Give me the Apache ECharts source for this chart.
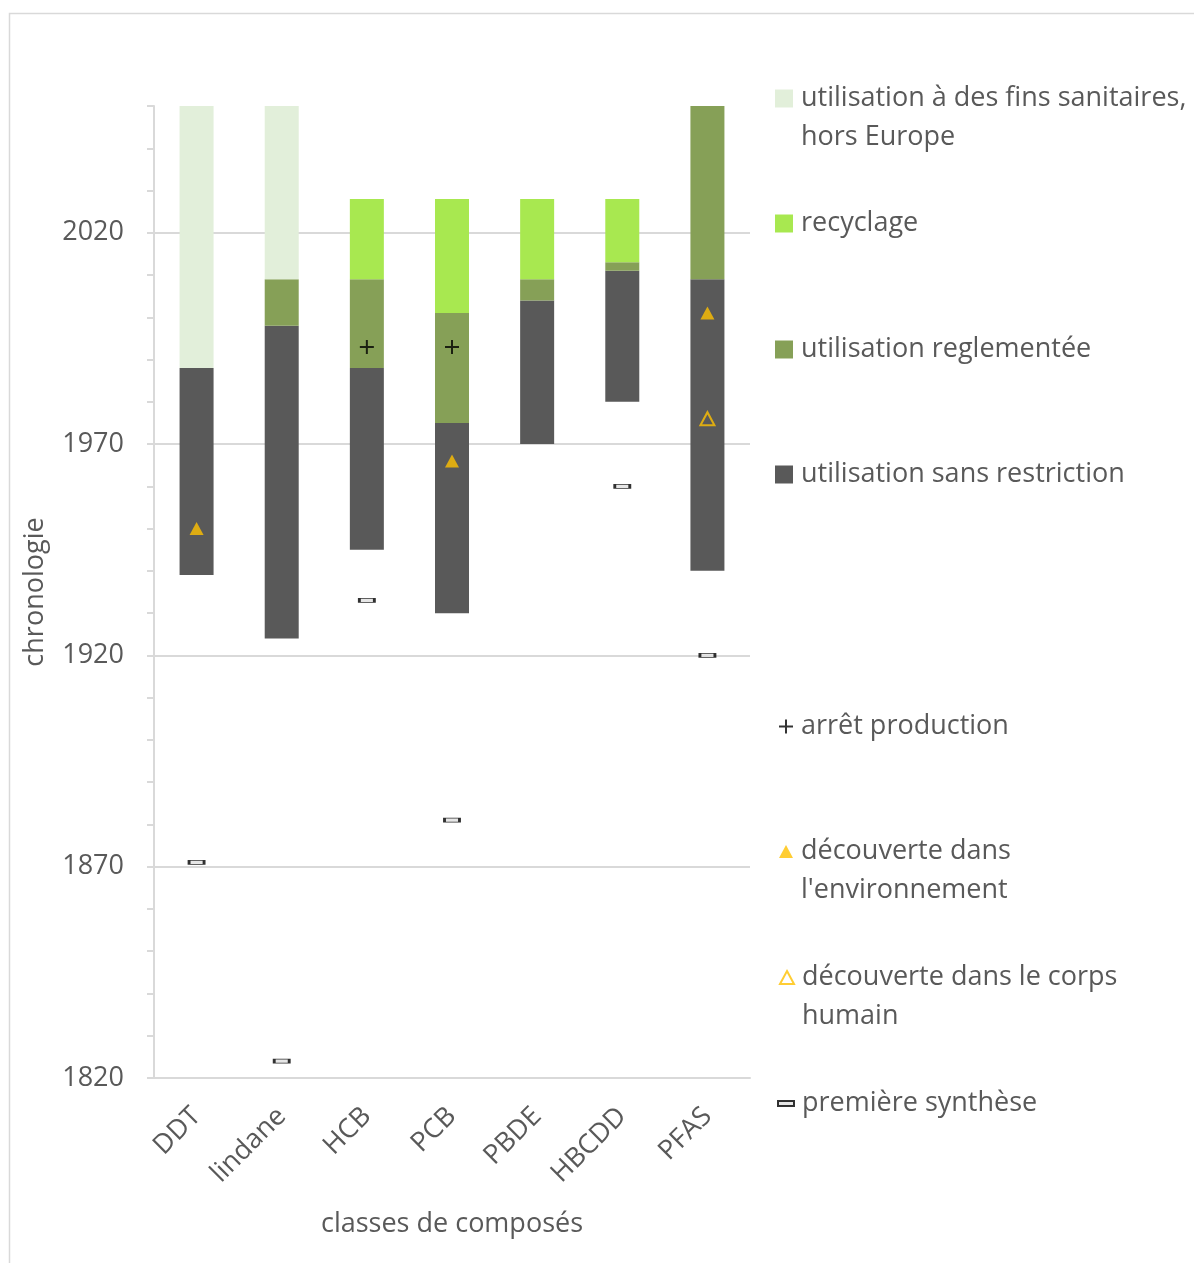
<!DOCTYPE html>
<html><head><meta charset="utf-8">
<script src="https://cdn.jsdelivr.net/npm/echarts@6/dist/echarts.min.js"></script>
<style>html,body{margin:0;padding:0;background:#fff}#c{width:1194px;height:1263px}</style>
</head><body><div id="c"></div>
<script>
// ---- data (years) ----
const categories = ['DDT', 'lindane', 'HCB', 'PCB', 'PBDE', 'HBCDD', 'PFAS'];
const unrestrictedStart = [1939, 1924, 1945, 1930, 1970, 1980, 1940];
const unrestrictedEnd   = [1988, 1998, 1988, 1975, 2004, 2011, 2009];
const regulatedEnd      = [1988, 2009, 2009, 2001, 2009, 2013, 2050];
const recyclingEnd      = [1988, 2009, 2028, 2028, 2028, 2028, 2050];
const sanitaryEnd       = [2050, 2050, 2028, 2028, 2028, 2028, 2050];
const productionStop    = [null, null, 1993, 1993, null, null, null];
const envDiscovery      = [1950, null, null, 1966, null, null, 2001];
const humanDiscovery    = [null, null, null, null, null, null, 1976];
const firstSynthesis    = [1871, 1824, 1933, 1881, null, 1960, 1920];
const gridYears = [1870, 1920, 1970, 2020];
const yMin = 1820, yMax = 2050, yStep = 10, labelStep = 50;

// ---- chart ----
const FONT = 'Open Sans';
const TXT = '#595959';
const diff = (a, b) => a.map((v, i) => v - b[i]);
const pts = arr => arr.map(v => v == null ? '-' : v);
const plusPath = 'path://M6,0H8V6H14V8H8V14H6V8H0V6H6Z';

const C_UNR = '#595959', C_REG = '#86A057', C_REC = '#A8E850', C_SAN = '#E2EFDA', C_YEL = '#FFC000';

const N_SAN = 'utilisation à des fins sanitaires, hors Europe';
const N_REC = 'recyclage';
const N_REG = 'utilisation reglementée';
const N_UNR = 'utilisation sans restriction';
const N_STOP = 'arrêt production';
const N_ENV = "découverte dans l'environnement";
const N_HUM = 'découverte dans le corps humain';
const N_SYN = 'première synthèse';
// multi-line legend texts: a leading empty line keeps the icon level with the first line
const labels = {};
labels[N_SAN] = ['', 'utilisation à des fins sanitaires,', 'hors Europe'];
labels[N_ENV] = ['', 'découverte dans', "l'environnement"];
labels[N_HUM] = ['', 'découverte dans le corps', 'humain'];

function fmt(n) {
  const lines = labels[n] || [n];
  return lines.map(l => l ? '{t|' + l + '}' : '').join('\n');
}

function lg(name, top, extra) {
  const o = {
    data: [name], top: top, left: 775, orient: 'vertical', padding: 0,
    itemWidth: 18, itemHeight: 18, selectedMode: false,
    formatter: fmt,
    textStyle: { fontSize: 27, color: TXT, lineHeight: 39, fontFamily: FONT,
      rich: { t: { fontSize: 27, color: TXT, lineHeight: 39, fontFamily: FONT, padding: [0, 0, 0, 3] } } }
  };
  return Object.assign(o, extra || {});
}

const barCommon = { type: 'bar', stack: 'total', barWidth: 34, emphasis: { disabled: true }, silent: true };

const option = {
  animation: false,
  backgroundColor: '#fff',
  textStyle: { fontFamily: FONT },
  graphic: [{ type: 'rect', silent: true, z: -10,
    shape: { x: 9.5, y: 13.5, width: 1300, height: 1300 },
    style: { fill: 'none', stroke: '#D9D9D9', lineWidth: 1.5 } }],
  grid: { left: 154, right: 444, top: 106, bottom: 185 },
  xAxis: {
    type: 'category', data: categories,
    axisLine: { lineStyle: { color: '#D9D9D9', width: 2 } },
    axisTick: { show: false },
    axisLabel: { rotate: 45, fontSize: 27, color: TXT, margin: 34, fontFamily: FONT, interval: 0 },
    name: 'classes de composés', nameLocation: 'middle', nameGap: 133,
    nameTextStyle: { fontSize: 27, color: TXT, fontFamily: FONT }
  },
  yAxis: {
    type: 'value', min: yMin, max: yMax, interval: yStep,
    axisLine: { show: true, lineStyle: { color: '#D9D9D9', width: 2 } },
    axisTick: { show: true, length: 7, lineStyle: { color: '#D9D9D9', width: 2 } },
    axisLabel: { formatter: v => ((v - yMin) % labelStep === 0 ? String(v) : ''),
                 fontSize: 27, color: TXT, margin: 30, fontFamily: FONT },
    splitLine: { show: false },
    name: 'chronologie', nameLocation: 'middle', nameGap: 105,
    nameTextStyle: { fontSize: 27, color: TXT, fontFamily: FONT }
  },
  legend: [
    lg(N_SAN, 40, { icon: 'rect' }),
    lg(N_REC, 204, { icon: 'rect' }),
    lg(N_REG, 330, { icon: 'rect' }),
    lg(N_UNR, 455, { icon: 'rect' }),
    lg(N_STOP, 707, { itemWidth: 14, itemHeight: 14, left: 779 }),
    lg(N_ENV, 793, { itemWidth: 14, itemHeight: 13, left: 779 }),
    lg(N_HUM, 919, { itemWidth: 14, itemHeight: 13, left: 779 }),
    lg(N_SYN, 1084, { itemWidth: 16, itemHeight: 5, left: 777, icon: 'rect' })
  ],
  series: [
    Object.assign({}, barCommon, { name: 'base', data: unrestrictedStart, itemStyle: { color: 'transparent' },
      markLine: { silent: true, symbol: 'none', z: 1, animation: false, label: { show: false },
        lineStyle: { color: '#D9D9D9', width: 2, type: 'solid' },
        emphasis: { disabled: true },
        data: gridYears.map(y => ({ yAxis: y })) } }),
    Object.assign({}, barCommon, { name: N_UNR, data: diff(unrestrictedEnd, unrestrictedStart), itemStyle: { color: C_UNR } }),
    Object.assign({}, barCommon, { name: N_REG, data: diff(regulatedEnd, unrestrictedEnd), itemStyle: { color: C_REG } }),
    Object.assign({}, barCommon, { name: N_REC, data: diff(recyclingEnd, regulatedEnd), itemStyle: { color: C_REC } }),
    Object.assign({}, barCommon, { name: N_SAN, data: diff(sanitaryEnd, recyclingEnd), itemStyle: { color: C_SAN } }),
    { type: 'scatter', name: N_STOP, z: 3, data: pts(productionStop), symbol: plusPath, symbolSize: 14,
      itemStyle: { color: '#000' }, silent: true },
    { type: 'scatter', name: N_ENV, z: 3, data: pts(envDiscovery), symbol: 'triangle', symbolSize: [14, 13],
      itemStyle: { color: C_YEL }, silent: true },
    { type: 'scatter', name: N_HUM, z: 3, data: pts(humanDiscovery), symbol: 'triangle', symbolSize: [14, 13],
      itemStyle: { color: 'rgba(0,0,0,0)', borderColor: C_YEL, borderWidth: 2 }, silent: true },
    { type: 'scatter', name: N_SYN, z: 3, data: pts(firstSynthesis), symbol: 'rect', symbolSize: [15, 4],
      itemStyle: { color: '#E0E0E0', borderColor: '#000', borderWidth: 1.5 }, silent: true }
  ]
};
const chart = echarts.init(document.getElementById('c'), null, { renderer: 'canvas' });
chart.setOption(option);
</script>
</body></html>
